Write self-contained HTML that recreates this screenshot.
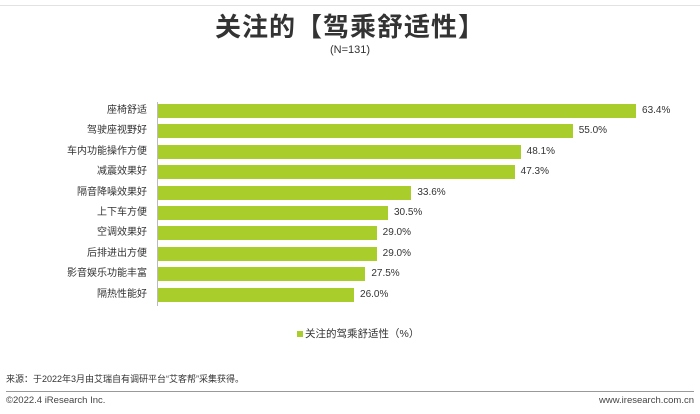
<!DOCTYPE html>
<html><head><meta charset="utf-8"><style>
body{margin:0;width:700px;height:414px;background:#fff;position:relative;overflow:hidden;font-family:"Liberation Sans","Noto Sans CJK SC",sans-serif;color:#333}
.a{position:absolute;white-space:nowrap}
.lab{position:absolute;right:553px;font-size:10px;color:#333;line-height:14px}
.bar{position:absolute;left:158px;height:14px;background:#a9ce2b}
.val{position:absolute;font-size:10px;color:#333;line-height:14px}
</style></head><body>
<div class="a" style="left:0;top:5px;width:700px;height:1px;background:#e2e2e2"></div>
<div class="a" style="left:0;width:700px;top:7px;text-align:center;font-size:26px;font-weight:bold;color:#333;letter-spacing:1px">关注的【驾乘舒适性】</div>
<div class="a" style="left:0;width:700px;top:44px;text-align:center;font-size:11px;color:#333">(N=131)</div>
<div class="a" style="left:157px;top:102px;width:1px;height:204px;background:#bbb"></div>
<div id="c"></div>
<div class="a" style="left:297px;top:326px;font-size:10.5px;color:#333"><span style="display:inline-block;width:6px;height:6px;background:#a9ce2b;margin-right:2px"></span>关注的驾乘舒适性（%）</div>
<div class="a" style="left:6px;top:372px;font-size:9px;color:#333">来源：于2022年3月由艾瑞自有调研平台“艾客帮”采集获得。</div>
<div class="a" style="left:6px;top:391px;width:688px;height:1px;background:#999"></div>
<div class="a" style="left:6px;top:395px;font-size:9.5px;color:#444">©2022.4 iResearch Inc.</div>
<div class="a" style="right:6px;top:395px;font-size:9.5px;color:#444">www.iresearch.com.cn</div>
<script>
var d=[["座椅舒适",63.4],["驾驶座视野好",55.0],["车内功能操作方便",48.1],["减震效果好",47.3],["隔音降噪效果好",33.6],["上下车方便",30.5],["空调效果好",29.0],["后排进出方便",29.0],["影音娱乐功能丰富",27.5],["隔热性能好",26.0]];
var h="";d.forEach(function(r,i){var y=104+i*20.4;var w=r[1]*7.54;
h+='<div class="lab" style="top:'+y+'px">'+r[0]+'</div><div class="bar" style="top:'+y+'px;width:'+w+'px"></div><div class="val" style="top:'+y+'px;left:'+(158+w+6)+'px">'+r[1].toFixed(1)+'%</div>';});
document.getElementById("c").innerHTML=h;
</script>
</body></html>
